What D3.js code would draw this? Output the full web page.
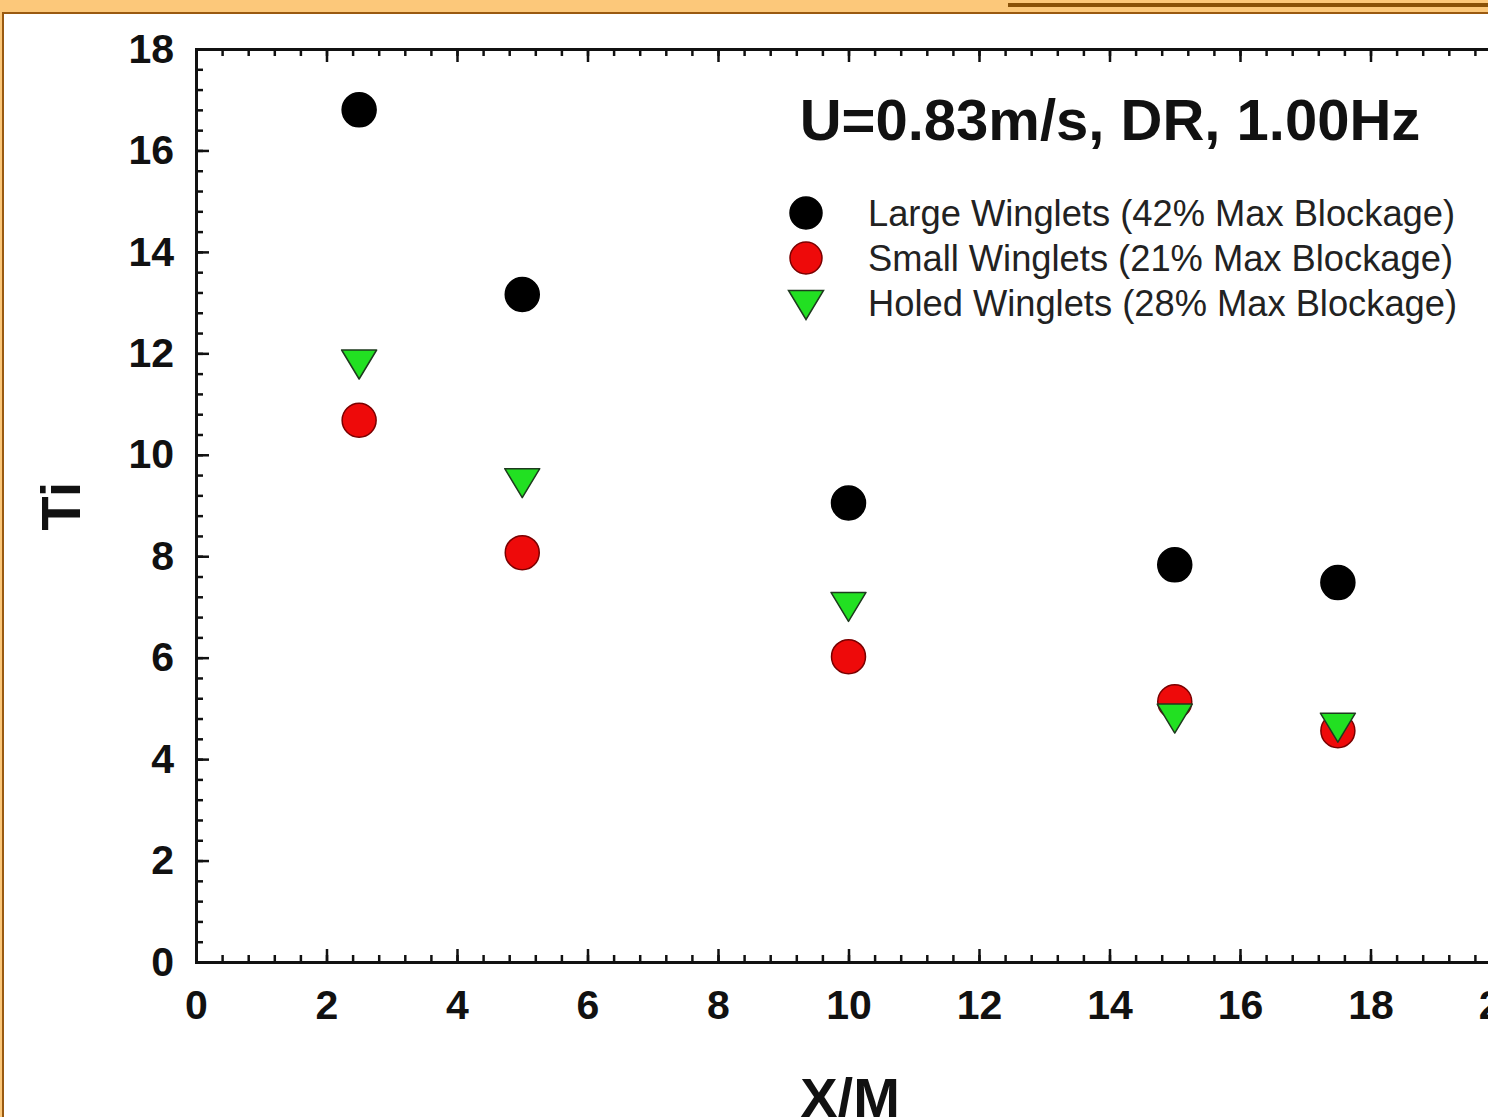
<!DOCTYPE html>
<html>
<head>
<meta charset="utf-8">
<script src="https://cdn.jsdelivr.net/npm/d3@7"></script>
<style>
  html, body { margin: 0; padding: 0; background: #fff; }
  svg { display: block; }
  text { font-family: "Liberation Sans", Arial, sans-serif; }
</style>
</head>
<body>
<svg id="chart" width="1488" height="1117"></svg>
<script>
// ---- Data ----
const xPositions = [2.5, 5, 10, 15, 17.5];
const largeWinglets = [16.8, 13.16, 9.05, 7.83, 7.48];
const smallWinglets = [10.68, 8.07, 6.02, 5.13, 4.56];
const holedWinglets = [11.78, 9.44, 7.0, 4.8, 4.62];
const seriesNames = [
  "Large Winglets (42% Max Blockage)",
  "Small Winglets (21% Max Blockage)",
  "Holed Winglets (28% Max Blockage)"
];
const xTickValues = [0, 2, 4, 6, 8, 10, 12, 14, 16, 18, 20];
const yTickValues = [0, 2, 4, 6, 8, 10, 12, 14, 16, 18];
const titleText = "U=0.83m/s, DR, 1.00Hz";
const xLabel = "X/M";
const yLabel = "Ti";

const svg = d3.select("#chart");
const W = 1488, H = 1117;

// ---- Frame decoration ----
svg.append("rect").attr("x", 0).attr("y", 0).attr("width", W).attr("height", 12).attr("fill", "#FCC87A");
svg.append("rect").attr("x", 0).attr("y", 12).attr("width", W).attr("height", 2).attr("fill", "#9A5A10");
svg.append("rect").attr("x", 1008).attr("y", 3).attr("width", W - 1008).attr("height", 4).attr("fill", "#8A5208");
svg.append("rect").attr("x", 0).attr("y", 0).attr("width", 2).attr("height", H).attr("fill", "#FCC87A");
svg.append("rect").attr("x", 2).attr("y", 12).attr("width", 2).attr("height", H).attr("fill", "#9A5A10");

// ---- Scales ----
const x = d3.scaleLinear().domain([0, 20]).range([196, 1501]);
const y = d3.scaleLinear().domain([0, 18]).range([962, 49]);

const minorX = d3.range(0, 20.0001, 0.4).map(v => +v.toFixed(2));
const minorY = d3.range(0, 18.0001, 0.4).map(v => +v.toFixed(2));

function styleAxis(g) {
  g.select(".domain").attr("stroke", "#111").attr("stroke-width", 3);
  g.selectAll(".tick line").attr("stroke", "#111").attr("stroke-width", 2.5);
}

// minor ticks
svg.append("g").attr("transform", `translate(0,${y(0)})`)
  .call(d3.axisBottom(x).tickValues(minorX).tickSize(-7).tickFormat(""))
  .call(styleAxis);
svg.append("g").attr("transform", `translate(0,${y(18)})`)
  .call(d3.axisTop(x).tickValues(minorX).tickSize(-7).tickFormat(""))
  .call(styleAxis);
svg.append("g").attr("transform", `translate(${x(0)},0)`)
  .call(d3.axisLeft(y).tickValues(minorY).tickSize(-7).tickFormat(""))
  .call(styleAxis);
svg.append("g").attr("transform", `translate(${x(20)},0)`)
  .call(d3.axisRight(y).tickValues(minorY).tickSize(-7).tickFormat(""))
  .call(styleAxis);

// major ticks with labels
const xAxis = svg.append("g").attr("transform", `translate(0,${y(0)})`)
  .call(d3.axisBottom(x).tickValues(xTickValues).tickSize(-13).tickPadding(28).tickFormat(d3.format("d")))
  .call(styleAxis);
xAxis.selectAll(".tick text")
  .attr("font-size", 41).attr("font-weight", "bold").attr("fill", "#111")
  .attr("font-family", "'Liberation Sans', Arial, sans-serif")
  .attr("dy", "0.71em");

const yAxis = svg.append("g").attr("transform", `translate(${x(0)},0)`)
  .call(d3.axisLeft(y).tickValues(yTickValues).tickSize(-13).tickPadding(22).tickFormat(d3.format("d")))
  .call(styleAxis);
yAxis.selectAll(".tick text")
  .attr("font-size", 41).attr("font-weight", "bold").attr("fill", "#111")
  .attr("font-family", "'Liberation Sans', Arial, sans-serif");

svg.append("g").attr("transform", `translate(0,${y(18)})`)
  .call(d3.axisTop(x).tickValues(xTickValues).tickSize(-13).tickFormat(""))
  .call(styleAxis);
svg.append("g").attr("transform", `translate(${x(20)},0)`)
  .call(d3.axisRight(y).tickValues(yTickValues).tickSize(-13).tickFormat(""))
  .call(styleAxis);

// ---- Axis labels ----
svg.append("text")
  .attr("x", 850).attr("y", 1117)
  .attr("text-anchor", "middle")
  .attr("font-size", 56).attr("font-weight", "bold").attr("fill", "#111")
  .text(xLabel);
svg.append("text")
  .attr("transform", "translate(80,506) rotate(-90)")
  .attr("text-anchor", "middle")
  .attr("font-size", 56).attr("font-weight", "bold").attr("fill", "#111")
  .text(yLabel);

// ---- Title ----
svg.append("text")
  .attr("x", 1110).attr("y", 140)
  .attr("text-anchor", "middle")
  .attr("font-size", 58).attr("font-weight", "bold").attr("fill", "#111")
  .text(titleText);

// ---- Markers ----
const triW = 35, triH = 29;
function triPath(cx, cy) {
  return `M${cx - triW / 2},${cy - triH / 2}L${cx + triW / 2},${cy - triH / 2}L${cx},${cy + triH / 2}Z`;
}

const styles = [
  { fill: "#000000", stroke: "#000000" },
  { fill: "#EE0A0A", stroke: "#7A0000" },
  { fill: "#22E022", stroke: "#1E3A1E" }
];

svg.append("g").selectAll("circle").data(xPositions.map((d, i) => [d, largeWinglets[i]]))
  .join("circle")
  .attr("cx", d => x(d[0])).attr("cy", d => y(d[1])).attr("r", 17)
  .attr("fill", styles[0].fill).attr("stroke", styles[0].stroke).attr("stroke-width", 1.5);

svg.append("g").selectAll("circle").data(xPositions.map((d, i) => [d, smallWinglets[i]]))
  .join("circle")
  .attr("cx", d => x(d[0])).attr("cy", d => y(d[1])).attr("r", 17)
  .attr("fill", styles[1].fill).attr("stroke", styles[1].stroke).attr("stroke-width", 1.5);

svg.append("g").selectAll("path").data(xPositions.map((d, i) => [d, holedWinglets[i]]))
  .join("path")
  .attr("d", d => triPath(x(d[0]), y(d[1])))
  .attr("fill", styles[2].fill).attr("stroke", styles[2].stroke).attr("stroke-width", 1.5)
  .attr("stroke-linejoin", "round");

// ---- Legend ----
const legendY = [213, 258, 303];
const legend = svg.append("g");
legend.append("circle").attr("cx", 806).attr("cy", legendY[0]).attr("r", 16)
  .attr("fill", styles[0].fill).attr("stroke", styles[0].stroke).attr("stroke-width", 1.5);
legend.append("circle").attr("cx", 806).attr("cy", legendY[1]).attr("r", 16)
  .attr("fill", styles[1].fill).attr("stroke", styles[1].stroke).attr("stroke-width", 1.5);
legend.append("path").attr("d", triPath(806, legendY[2] + 2))
  .attr("fill", styles[2].fill).attr("stroke", styles[2].stroke).attr("stroke-width", 1.5);
legend.selectAll("text").data(seriesNames).join("text")
  .attr("x", 868).attr("y", (d, i) => legendY[i] + 13)
  .attr("font-size", 36.3).attr("fill", "#222")
  .text(d => d);
</script>
</body>
</html>
